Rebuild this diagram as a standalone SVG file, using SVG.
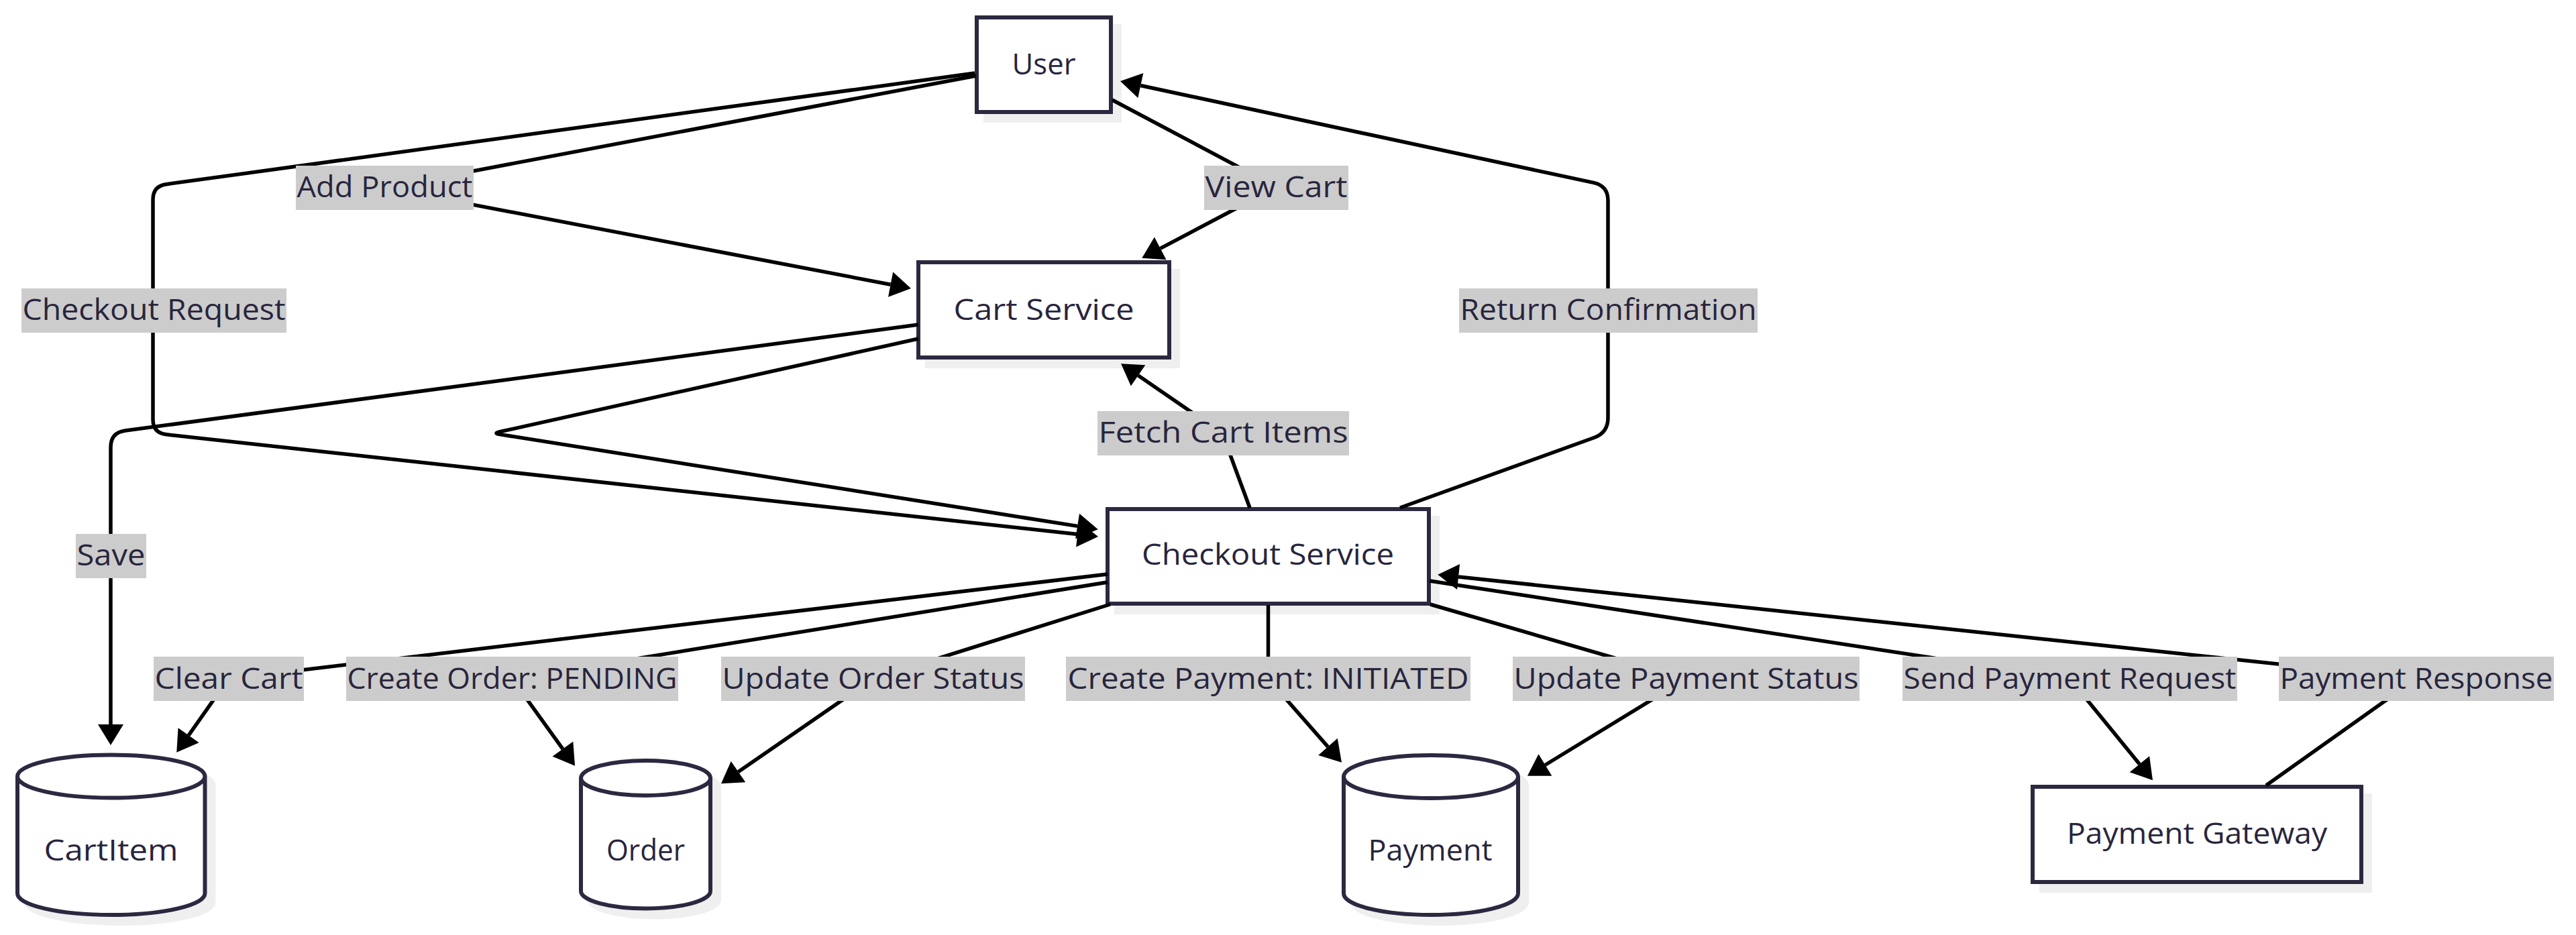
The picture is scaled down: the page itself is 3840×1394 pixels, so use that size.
<svg xmlns="http://www.w3.org/2000/svg" width="3840" height="1394" viewBox="0 0 3840 1394">
<defs>
<marker id="arrow" markerUnits="userSpaceOnUse" markerWidth="32" markerHeight="38" refX="0" refY="19" orient="auto" viewBox="0 0 32 38" overflow="visible"><path d="M0,0 L31,19 L0,38 Z" fill="#000"/></marker>
<style>
.shape{fill:#ffffff;stroke:#2b2940;stroke-width:6}
.shadow{fill:#efefef;stroke:#efefef;stroke-width:6}
.edge{fill:none;stroke:#000;stroke-width:5.5;stroke-linejoin:round;marker-end:url(#arrow)}
.lbl rect{fill:#cccccc}
text{font-family:"Open Sans","Liberation Sans",sans-serif;font-size:44px;fill:#28253d;text-anchor:middle}
</style>
</defs>
<rect width="3840" height="1394" fill="#ffffff"/>
<g id="nodes">
<g id="node-user"><rect class="shadow" x="1469" y="39" width="200" height="141"/><rect class="shape" x="1456" y="26" width="200" height="141"/><text x="1556" y="111" textLength="95" lengthAdjust="spacingAndGlyphs">User</text></g>
<g id="node-cart-service"><rect class="shadow" x="1382" y="404" width="374" height="142"/><rect class="shape" x="1369" y="391" width="374" height="142"/><text x="1556" y="477" textLength="269" lengthAdjust="spacingAndGlyphs">Cart Service</text></g>
<g id="node-checkout-service"><rect class="shadow" x="1664" y="772" width="479" height="141"/><rect class="shape" x="1651" y="759" width="479" height="141"/><text x="1890" y="842" textLength="376" lengthAdjust="spacingAndGlyphs">Checkout Service</text></g>
<g id="node-payment-gateway"><rect class="shadow" x="3043" y="1186" width="490" height="142"/><rect class="shape" x="3030" y="1173" width="490" height="142"/><text x="3275" y="1258" textLength="388" lengthAdjust="spacingAndGlyphs">Payment Gateway</text></g>
<g id="node-cartitem"><path class="shadow" transform="translate(13,13)" d="M26,1157.5 a139.75,32 0 0 0 279.5,0 a139.75,32 0 0 0 -279.5,0 l0,174.5 a139.75,32 0 0 0 279.5,0 l0,-174.5"/><path class="shape" d="M26,1157.5 a139.75,32 0 0 0 279.5,0 a139.75,32 0 0 0 -279.5,0 l0,174.5 a139.75,32 0 0 0 279.5,0 l0,-174.5"/><text x="165.5" y="1283" textLength="200" lengthAdjust="spacingAndGlyphs">CartItem</text></g>
<g id="node-order"><path class="shadow" transform="translate(13,13)" d="M866,1160 a96.5,26 0 0 0 193,0 a96.5,26 0 0 0 -193,0 l0,168.5 a96.5,26 0 0 0 193,0 l0,-168.5"/><path class="shape" d="M866,1160 a96.5,26 0 0 0 193,0 a96.5,26 0 0 0 -193,0 l0,168.5 a96.5,26 0 0 0 193,0 l0,-168.5"/><text x="962.5" y="1283" textLength="117" lengthAdjust="spacingAndGlyphs">Order</text></g>
<g id="node-payment"><path class="shadow" transform="translate(13,13)" d="M2003,1158 a130,32 0 0 0 260,0 a130,32 0 0 0 -260,0 l0,174 a130,32 0 0 0 260,0 l0,-174"/><path class="shape" d="M2003,1158 a130,32 0 0 0 260,0 a130,32 0 0 0 -260,0 l0,174 a130,32 0 0 0 260,0 l0,-174"/><text x="2132" y="1283" textLength="185" lengthAdjust="spacingAndGlyphs">Payment</text></g>
</g>
<g id="connectors">
<path class="edge" d="M1455,113 L573.5,280 L1327.6,424.2"/>
<path class="edge" d="M1453,109 L247.8,274.7 Q228,277.4 228,297.4 L228,625.6 Q228,645.6 247.9,647.8 L1606.2,796.6"/>
<path class="edge" d="M1658,149 L1903,279 L1729.7,370.4"/>
<path class="edge" d="M2087,757 L2376.3,652.5 Q2397,645 2397,623 L2397,299 Q2397,277 2375.5,272.4 L1700.3,127.5"/>
<path class="edge" d="M1863,757 L1822,646 L1696.6,559.8"/>
<path class="edge" d="M1369,484 L186.8,642.1 Q165,645 165,667 L165,1080"/>
<path class="edge" d="M1369,505 L744.8,643.8 Q735,646 744.9,647.6 L1606.1,784.4"/>
<path class="edge" d="M1651,856 L340.5,1012 L281.1,1096.3"/>
<path class="edge" d="M1651,868 L763.5,1012 L838.9,1116.6"/>
<path class="edge" d="M1655,901 L1301.5,1012 L1100.5,1150.7"/>
<path class="edge" d="M1890.5,902 L1890.5,1012 L1979.5,1113.4"/>
<path class="edge" d="M2132,901 L2513.5,1012 L2303.4,1140.5"/>
<path class="edge" d="M2131,866 L3085.5,1012 L3189.4,1139.3"/>
<path class="edge" d="M3378,1171 L3602,1012 L2174.1,860"/>
</g>
<g id="edge-labels">
<g class="lbl"><rect x="441" y="247" width="265" height="66"/><text x="573.5" y="294" textLength="262" lengthAdjust="spacingAndGlyphs">Add Product</text></g>
<g class="lbl"><rect x="1795" y="247" width="215" height="66"/><text x="1902.5" y="294" textLength="212" lengthAdjust="spacingAndGlyphs">View Cart</text></g>
<g class="lbl"><rect x="32" y="430" width="395" height="66"/><text x="229.5" y="477" textLength="392" lengthAdjust="spacingAndGlyphs">Checkout Request</text></g>
<g class="lbl"><rect x="2175" y="430" width="445" height="66"/><text x="2397.5" y="477" textLength="442" lengthAdjust="spacingAndGlyphs">Return Confirmation</text></g>
<g class="lbl"><rect x="1636" y="613" width="375" height="66"/><text x="1823.5" y="660" textLength="372" lengthAdjust="spacingAndGlyphs">Fetch Cart Items</text></g>
<g class="lbl"><rect x="113" y="796" width="105" height="66"/><text x="165.5" y="843" textLength="102" lengthAdjust="spacingAndGlyphs">Save</text></g>
<g class="lbl"><rect x="229" y="979" width="224" height="66"/><text x="341" y="1027" textLength="221" lengthAdjust="spacingAndGlyphs">Clear Cart</text></g>
<g class="lbl"><rect x="516" y="979" width="495" height="66"/><text x="763.5" y="1027" textLength="492" lengthAdjust="spacingAndGlyphs">Create Order: PENDING</text></g>
<g class="lbl"><rect x="1075" y="979" width="453" height="66"/><text x="1301.5" y="1027" textLength="450" lengthAdjust="spacingAndGlyphs">Update Order Status</text></g>
<g class="lbl"><rect x="1589" y="979" width="603" height="66"/><text x="1890.5" y="1027" textLength="598" lengthAdjust="spacingAndGlyphs">Create Payment: INITIATED</text></g>
<g class="lbl"><rect x="2255" y="979" width="517" height="66"/><text x="2513.5" y="1027" textLength="514" lengthAdjust="spacingAndGlyphs">Update Payment Status</text></g>
<g class="lbl"><rect x="2836" y="979" width="499" height="66"/><text x="3085.5" y="1027" textLength="496" lengthAdjust="spacingAndGlyphs">Send Payment Request</text></g>
<g class="lbl"><rect x="3397" y="979" width="410" height="66"/><text x="3602" y="1027" textLength="407" lengthAdjust="spacingAndGlyphs">Payment Response</text></g>
</g>
</svg>
